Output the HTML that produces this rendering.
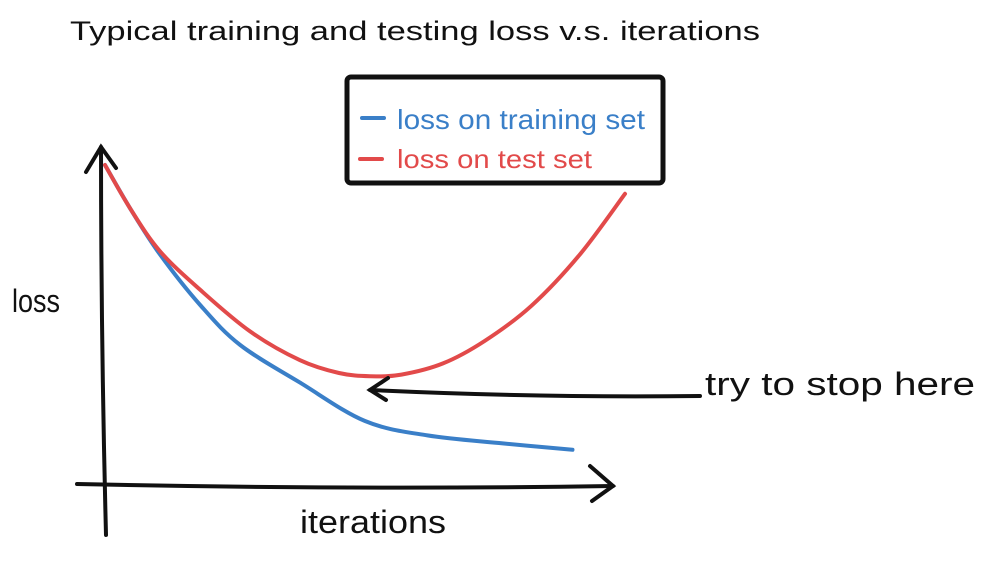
<!DOCTYPE html>
<html><head><meta charset="utf-8"><style>
html,body{margin:0;padding:0;background:#fff;width:989px;height:568px;overflow:hidden}
svg{display:block}
text{font-family:"Liberation Sans",sans-serif}
</style></head><body>
<svg id="chart" width="989" height="568" viewBox="0 0 989 568">
  <text x="70" y="40" font-size="27" textLength="690" lengthAdjust="spacingAndGlyphs" fill="#111">Typical training and testing loss v.s. iterations</text>
  <rect x="347" y="77" width="316" height="106" rx="4" fill="none" stroke="#111" stroke-width="5"/>
  <line x1="362" y1="118" x2="384" y2="118" stroke="#3a7fc8" stroke-width="4" stroke-linecap="round"/>
  <text x="397" y="129" font-size="28" textLength="248" lengthAdjust="spacingAndGlyphs" fill="#3a7fc8">loss on training set</text>
  <line x1="360" y1="159" x2="382" y2="159" stroke="#e24a4a" stroke-width="4" stroke-linecap="round"/>
  <text x="397" y="168" font-size="26" textLength="195" lengthAdjust="spacingAndGlyphs" fill="#e24a4a">loss on test set</text>
  <g stroke="#111" stroke-width="4" fill="none" stroke-linecap="round">
    <path d="M106 535 Q101 340 101 147"/>
    <path d="M86 172 L101 147 L116 168"/>
  </g>
  <g stroke="#111" stroke-width="4" fill="none" stroke-linecap="round">
    <path d="M77 484 Q350 490 613 486"/>
    <path d="M590 466 L613 486 L592 501"/>
  </g>
  <text x="12" y="312" font-size="32" textLength="48" lengthAdjust="spacingAndGlyphs" fill="#111">loss</text>
  <text x="300" y="533" font-size="32" textLength="146" lengthAdjust="spacingAndGlyphs" fill="#111">iterations</text>
  <g id="series"></g>
  <g stroke="#111" stroke-width="4" fill="none" stroke-linecap="round">
    <path d="M700 396 Q540 398 370 390"/>
    <path d="M388 378 L370 390 L386 400"/>
  </g>
  <text x="705" y="395" font-size="32" textLength="270" lengthAdjust="spacingAndGlyphs" fill="#111">try to stop here</text>
</svg>
<script>
const trainIter = [0, 5, 10.6, 18.3, 26, 37.5, 50, 62, 76.5, 89.9];
const trainLoss = [1, 0.86, 0.72, 0.5625, 0.4375, 0.32, 0.2, 0.155, 0.13, 0.11];
const testIter = [0, 5, 10.6, 18.3, 27.9, 37.5, 45, 51, 57, 65, 73, 82, 91.3, 100];
const testLoss = [1, 0.86, 0.73, 0.61, 0.48, 0.39, 0.35, 0.34, 0.345, 0.38, 0.45, 0.56, 0.72, 0.91];

function xScale(i){ return 105 + i * 5.2; }
function yScale(v){ return 485 - v * 320; }
function smoothPath(xs, ys){
  const p = xs.map((x,k)=>[xScale(x), yScale(ys[k])]);
  let d = 'M' + p[0][0] + ' ' + p[0][1];
  for(let k=0;k<p.length-1;k++){
    const p0=p[k-1]||p[k], p1=p[k], p2=p[k+1], p3=p[k+2]||p2;
    const c1x=p1[0]+(p2[0]-p0[0])/6, c1y=p1[1]+(p2[1]-p0[1])/6;
    const c2x=p2[0]-(p3[0]-p1[0])/6, c2y=p2[1]-(p3[1]-p1[1])/6;
    d += ' C'+c1x+' '+c1y+' '+c2x+' '+c2y+' '+p2[0]+' '+p2[1];
  }
  return d;
}
const g = document.getElementById('series');
const ns = 'http://www.w3.org/2000/svg';
const train = document.createElementNS(ns,'path');
train.setAttribute('d', smoothPath(trainIter, trainLoss));
train.setAttribute('stroke','#3a7fc8');
train.setAttribute('stroke-width','4');
train.setAttribute('fill','none');
train.setAttribute('stroke-linecap','round');


g.appendChild(train);
const test = document.createElementNS(ns,'path');
test.setAttribute('d', smoothPath(testIter, testLoss));
test.setAttribute('stroke','#e24a4a');
test.setAttribute('stroke-width','4');
test.setAttribute('fill','none');
test.setAttribute('stroke-linecap','round');


g.appendChild(test);
</script>
</body></html>
